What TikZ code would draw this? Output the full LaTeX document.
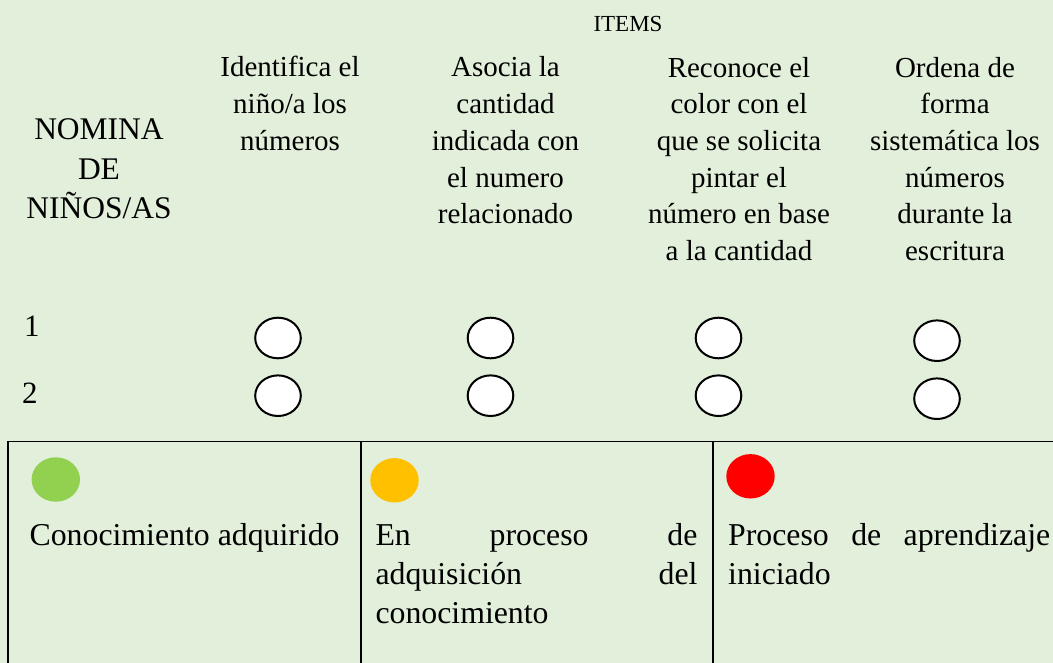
\documentclass[tikz,border=0pt]{standalone}
\usepackage{fontspec}
\setmainfont{Liberation Serif}
\usetikzlibrary{shapes.geometric}
\definecolor{bgfill}{HTML}{E2EFDA}
\definecolor{okgreen}{HTML}{92D050}
\definecolor{midorange}{HTML}{FFC000}
\definecolor{lowred}{HTML}{FF0000}
\begin{document}
\begin{tikzpicture}[x=1pt,y=-1pt,
  head/.style={align=center, inner sep=0pt, anchor=base, font=\fontsize{29}{36.7}\selectfont},
  rowlab/.style={inner sep=0pt, anchor=base west, font=\fontsize{31}{37}\selectfont},
  slot/.style={ellipse, draw=black, line width=2pt, fill=white, minimum width=45.6pt, minimum height=40.6pt, inner sep=0pt},
  dot/.style={ellipse, fill=#1, minimum width=48.4pt, minimum height=44.4pt, inner sep=0pt},
  legtext/.style={inner sep=0pt, anchor=base west, align=left, font=\fontsize{31.8}{39}\selectfont},
  rule/.style={line width=1.6pt, draw=black}]
\useasboundingbox (0,0) rectangle (1053,663);
\fill[bgfill] (0,0) rectangle (1053,663);

% headers (base anchor = baseline of the last line)
\node[head, font=\fontsize{23}{28}\selectfont] (items) at (628,31.7) {ITEMS};
\node[head, font=\fontsize{31.5}{39.2}\selectfont] (nomina) at (99,218.4) {NOMINA\\DE\\NIÑOS/AS};
\node[head] (h1) at (290,150.4) {Identifica el\\niño/a los\\números};
\node[head] (h2) at (505.5,223.8) {Asocia la\\cantidad\\indicada con\\el numero\\relacionado};
\node[head] (h3) at (739,260.5) {Reconoce el\\color con el\\que se solicita\\pintar el\\número en base\\a la cantidad};
\node[head] (h4) at (955,260.5) {Ordena de\\forma\\sistemática los\\números\\durante la\\escritura};

% rows
\node[rowlab] (r1) at (24,336.7) {1};
\node[rowlab] (r2) at (22,403) {2};
\node[slot] (c11) at (278,338) {};
\node[slot] (c12) at (490.5,338) {};
\node[slot] (c13) at (718.5,338) {};
\node[slot] (c14) at (937,340.7) {};
\node[slot] (c21) at (278,395.7) {};
\node[slot] (c22) at (490.5,395.7) {};
\node[slot] (c23) at (718.5,395.7) {};
\node[slot] (c24) at (937,398.7) {};

% legend table
\coordinate (tl) at (8,441.3);
\coordinate (tr) at (1053,441.3);
\coordinate (bl) at (8,663);
\coordinate (m1t) at (361,441.3);
\coordinate (m1b) at (361,663);
\coordinate (m2t) at (712.7,441.3);
\coordinate (m2b) at (712.7,663);
\draw[rule] (bl) -- (tl) -- (tr);
\draw[rule] (m1t) -- (m1b);
\draw[rule] (m2t) -- (m2b);

\node[dot=okgreen] (g) at (55.8,479.5) {};
\node[dot=midorange] (o) at (394.5,480.3) {};
\node[dot=lowred] (r) at (750.5,476.3) {};

\node[legtext] (l1) at (29.4,545) {Conocimiento adquirido};
\node[legtext] (l2) at (375.3,623) {\makebox[322pt][s]{En proceso de}\\\makebox[322pt][s]{adquisición del}\\conocimiento};
\node[legtext] (l3) at (728,584) {\makebox[322pt][s]{Proceso de aprendizaje}\\iniciado};
\end{tikzpicture}
\end{document}
